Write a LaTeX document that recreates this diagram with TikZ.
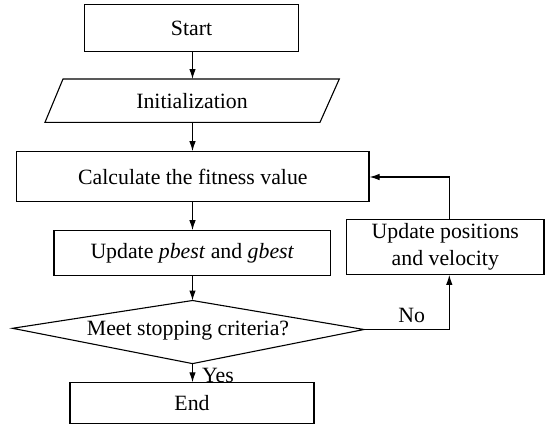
\documentclass[tikz,border=0pt]{standalone}
\usepackage{fontspec}
\setmainfont{Liberation Serif}
\usetikzlibrary{arrows.meta}
\begin{document}
\begin{tikzpicture}[x=1pt,y=-1pt,
  every node/.style={font=\fontsize{21.8}{27.5}\selectfont, inner sep=0pt},
  box/.style={draw, line width=1.1pt, rectangle},
  line/.style={line width=1.1pt},
  arr/.style={line width=1.1pt, -{Latex[length=10pt,width=6.5pt]}}]
\useasboundingbox (0,0) rectangle (548,426);
% nodes
\node[box, minimum width=214.4pt, minimum height=46.3pt] (start) at (191.5,28) {Start};
\node[minimum width=276pt, minimum height=43.3pt] (init) at (192,100.7) {Initialization};
\draw[line, line join=miter] (63,79) -- (339.3,79) -- (320,122.3) -- (45,122.3) -- cycle;
\node[box, minimum width=352.3pt, minimum height=50pt] (calc) at (192.85,176.7) {Calculate the fitness value};
\node[box, minimum width=276.7pt, minimum height=45pt] (upd) at (192.35,253.2) {Update \textit{pbest} and \textit{gbest}};
\coordinate (dtop) at (192.5,300.5);
\coordinate (dright) at (364,329.5);
\coordinate (dbot) at (192.5,363.6);
\coordinate (dleft) at (12.5,328.3);
\draw[line] (dtop) -- (dright) -- (dbot) -- (dleft) -- cycle;
\node (crit) at (188,331) {Meet stopping criteria?};
\node[box, minimum width=244pt, minimum height=40.7pt] (end) at (192,403.2) {End};
\node[box, minimum width=197.3pt, minimum height=55pt, align=center] (pos) at (445.3,246.8) {Update positions\\and velocity};
% connectors
\draw[arr] (start.south -| dtop) -- (192.5,79);
\draw[arr] (192.5,122.3) -- (calc.north -| dtop);
\draw[arr] (calc.south -| dtop) -- (upd.north -| dtop);
\draw[arr] (upd.south -| dtop) -- (dtop);
\draw[arr] (dbot) -- (end.north -| dbot);
\coordinate (nocorner) at (449.3,329.5);
\coordinate (topcorner) at (449.3,177);
\draw[arr] (dright) -- (nocorner) -- (pos.south -| nocorner);
\draw[arr] (pos.north -| topcorner) -- (topcorner) -- (calc.east |- topcorner);
\node (no) at (411.7,315) {No};
\node (yes) at (218,375) {Yes};
\end{tikzpicture}
\end{document}
